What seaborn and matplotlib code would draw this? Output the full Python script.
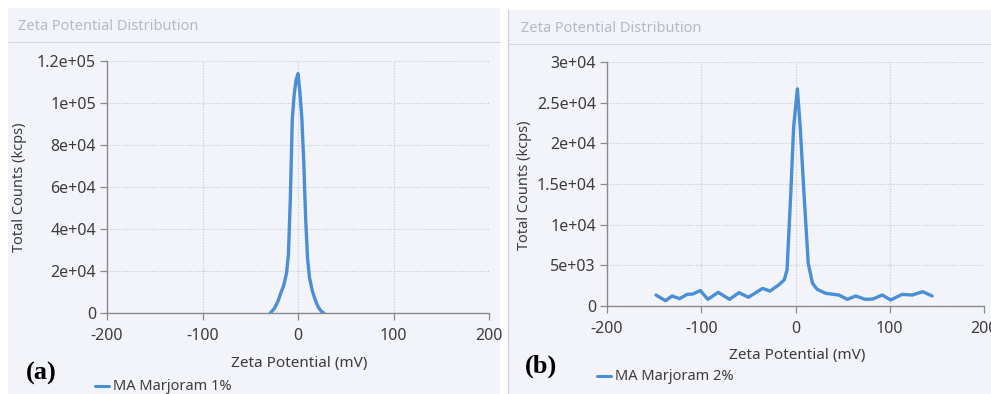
import numpy as np
import pandas as pd
import matplotlib
matplotlib.use("Agg")
import matplotlib.pyplot as plt
import seaborn as sns
from matplotlib.patches import Rectangle
from matplotlib.lines import Line2D
from matplotlib.ticker import FixedLocator, FixedFormatter

# panel (a): MA Marjoram 1%
zeta_a = [-29, -25, -21, -18, -15, -12, -10, -8, -6, -4, -2, 0,
          2, 4, 6, 8, 10, 12, 15, 18, 21, 24, 27]
counts_a = [0, 2000, 5500, 9500, 13000, 19000, 28000, 55000, 92000, 104000, 111000, 114000,
            105000, 93000, 72000, 45000, 26000, 17000, 10500, 6300, 3000, 1000, 0]

# panel (b): MA Marjoram 2%
zeta_b = [-148, -138, -131, -123, -115, -109, -101, -93, -82, -70, -60, -50, -35, -27,
          -18, -12, -9, -5, -2, 2, 5, 9, 13.5, 18, 23, 32, 46, 55, 64, 74, 82, 92,
          101, 113, 124, 135, 145]
counts_b = [1350, 650, 1230, 900, 1430, 1475, 1900, 820, 1680, 820, 1640, 1070, 2170, 1840,
            2580, 3200, 4400, 13850, 22000, 26700, 22000, 13850, 5250, 2800, 2050, 1560,
            1350, 820, 1230, 820, 860, 1350, 740, 1430, 1350, 1760, 1230]

x_ticks = [-200, -100, 0, 100, 200]
x_labels = ["-200", "-100", "0", "100", "200"]
y_ticks_a = [0, 20000, 40000, 60000, 80000, 100000, 120000]
y_labels_a = ["0", "2e+04", "4e+04", "6e+04", "8e+04", "1e+05", "1.2e+05"]
y_ticks_b = [0, 5000, 10000, 15000, 20000, 25000, 30000]
y_labels_b = ["0", "5e+03", "1e+04", "1.5e+04", "2e+04", "2.5e+04", "3e+04"]

sns.set_theme(style="whitegrid")
plt.rcParams['font.family'] = ['Noto Sans', 'DejaVu Sans']

W, H = 991, 394
fig = plt.figure(figsize=(W / 100, H / 100), dpi=100)
fig.patch.set_facecolor("white")

bg = "#f2f4fa"
line_col = "#4a8fd6"
txt = "#3c3c3c"
axis_col = "#8a8a8a"


def fx(px):
    return px / W


def fy(py):
    return 1 - py / H


# panel backgrounds and borders
fig.add_artist(Rectangle((fx(8), 0), fx(500 - 8), fy(8), facecolor=bg, edgecolor="none", zorder=0))
fig.add_artist(Rectangle((fx(508), 0), fx(991 - 508), fy(10), facecolor=bg, edgecolor="none", zorder=0))
fig.add_artist(Line2D([fx(508), fx(508)], [0, fy(10)], color="#c8ccd4", lw=0.8))
fig.add_artist(Line2D([fx(8), fx(500)], [fy(42), fy(42)], color="#d4d7de", lw=0.8))
fig.add_artist(Line2D([fx(508), fx(991)], [fy(44), fy(44)], color="#d4d7de", lw=0.8))

panels = [
    dict(x=zeta_a, y=counts_a, name="MA Marjoram 1%", yt=y_ticks_a, yl=y_labels_a,
         ymax=120000, box=(107, 61, 489, 313), title=(18, 26), tag="(a)", tagpos=(26, 373),
         ylab=(20, 187), xlab=(299, 364), leg=(95, 386)),
    dict(x=zeta_b, y=counts_b, name="MA Marjoram 2%", yt=y_ticks_b, yl=y_labels_b,
         ymax=30000, box=(607, 62, 984, 306), title=(521, 29), tag="(b)", tagpos=(525, 366),
         ylab=(525, 185), xlab=(797, 355), leg=(597, 376)),
]

for p in panels:
    x0, y0, x1, y1 = p["box"]
    ax = fig.add_axes([fx(x0), fy(y1), fx(x1 - x0), (y1 - y0) / H])
    ax.set_facecolor(bg)
    df = pd.DataFrame({"zeta": p["x"], "counts": p["y"]})
    sns.lineplot(data=df, x="zeta", y="counts", ax=ax, color=line_col, linewidth=2.4,
                 sort=False, zorder=3)
    ax.set_xlim(-200, 200)
    ax.set_ylim(0, p["ymax"])
    ax.xaxis.set_major_locator(FixedLocator(x_ticks))
    ax.xaxis.set_major_formatter(FixedFormatter(x_labels))
    ax.yaxis.set_major_locator(FixedLocator(p["yt"]))
    ax.yaxis.set_major_formatter(FixedFormatter(p["yl"]))
    ax.grid(True, color="#c4c7cf", linestyle=(0, (1, 1.5)), linewidth=0.8)
    for s in ["top", "right"]:
        ax.spines[s].set_visible(False)
    for s in ["left", "bottom"]:
        ax.spines[s].set_visible(True)
        ax.spines[s].set_color(axis_col)
        ax.spines[s].set_linewidth(1.0)
    ax.tick_params(axis="both", which="major", direction="out", length=5, width=0.9,
                   color=axis_col, labelcolor=txt, labelsize=11.5,
                   left=True, bottom=True)
    ax.tick_params(axis="x", pad=6)
    ax.tick_params(axis="y", pad=3)
    ax.set_xlabel("")
    ax.set_ylabel("")

    fig.text(fx(p["title"][0]), fy(p["title"][1]), "Zeta Potential Distribution",
             color="#b4b9c6", fontsize=10.5, va="center", ha="left")
    fig.text(fx(p["ylab"][0]), fy(p["ylab"][1]), "Total Counts (kcps)", color=txt,
             fontsize=10.5, rotation=90, va="center", ha="center")
    fig.text(fx(p["xlab"][0]), fy(p["xlab"][1]), "Zeta Potential (mV)", color=txt,
             fontsize=11, va="center", ha="center")
    fig.text(fx(p["tagpos"][0]), fy(p["tagpos"][1]), p["tag"], color="black",
             fontsize=19, fontweight="bold", family="Liberation Serif",
             va="center", ha="left")
    lx, ly = p["leg"]
    fig.add_artist(Line2D([fx(lx), fx(lx + 14)], [fy(ly), fy(ly)], color=line_col, lw=2.2))
    fig.text(fx(lx + 18), fy(ly), p["name"], color=txt, fontsize=10.5, va="center", ha="left")

fig.savefig("out.png", dpi=100)
